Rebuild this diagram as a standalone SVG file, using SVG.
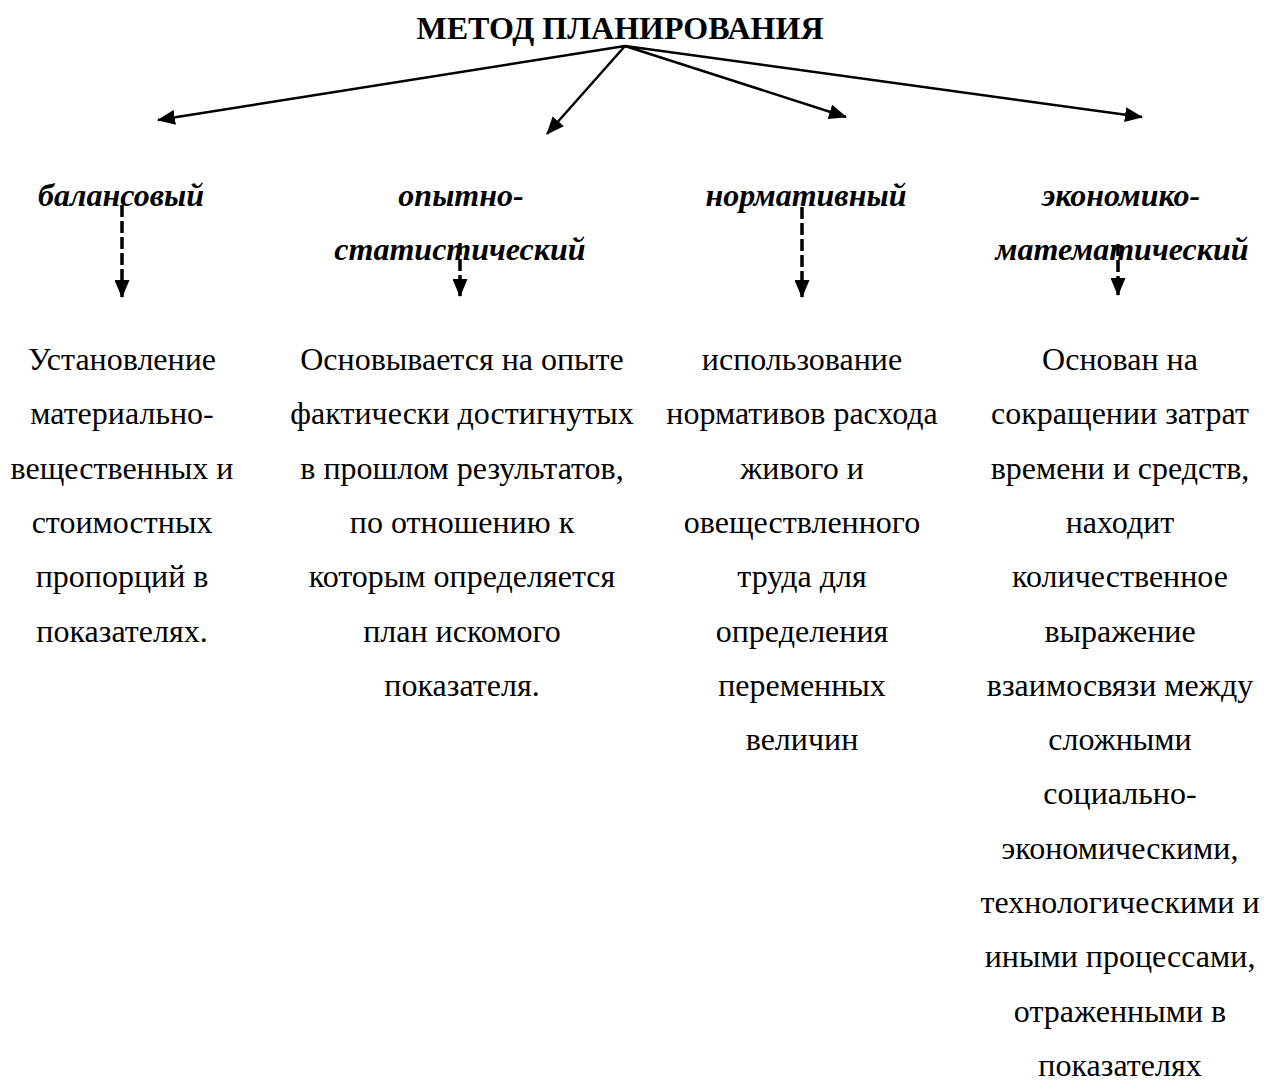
<svg xmlns="http://www.w3.org/2000/svg" width="1266" height="1090" viewBox="0 0 1266 1090">
<style>
.title{font-family:"Liberation Serif","Times New Roman",serif;font-weight:bold;font-size:32px;fill:#000;text-anchor:middle}
.head{font-family:"Liberation Serif","Times New Roman",serif;font-weight:bold;font-style:italic;font-size:32px;fill:#000;text-anchor:middle}
.body{font-family:"Liberation Serif","Times New Roman",serif;font-size:32px;fill:#000;text-anchor:middle}
.solid{stroke:#000;stroke-width:2.5;fill:none}
.dash{stroke:#000;stroke-width:3.5;fill:none;stroke-dasharray:12 4}
</style>
<defs>
<marker id="ah" viewBox="0 0 18 15" refX="17" refY="7.5" markerWidth="18" markerHeight="15" markerUnits="userSpaceOnUse" orient="auto">
<path d="M0,0 L18,7.5 L0,15 Z" fill="#000"/>
</marker>
</defs>
<g id="title"><text class="title" x="620" y="39">МЕТОД ПЛАНИРОВАНИЯ</text></g>
<g id="connectors">
<line class="solid" x1="625" y1="46" x2="158" y2="120" marker-end="url(#ah)"/>
<line class="solid" x1="625" y1="46" x2="547" y2="134" marker-end="url(#ah)"/>
<line class="solid" x1="625" y1="46" x2="846" y2="117" marker-end="url(#ah)"/>
<line class="solid" x1="625" y1="46" x2="1142" y2="117" marker-end="url(#ah)"/>
<line class="dash" x1="122" y1="205" x2="122" y2="297" marker-end="url(#ah)"/>
<line class="dash" x1="460" y1="243" x2="460" y2="296" marker-end="url(#ah)"/>
<line class="dash" x1="802" y1="207" x2="802" y2="297" marker-end="url(#ah)"/>
<line class="dash" x1="1118" y1="244" x2="1118" y2="295" marker-end="url(#ah)"/>
</g>
<g id="node-balance">
<text class="head" x="121" y="206">балансовый</text>
<text class="body" x="122" y="370">Установление</text>
<text class="body" x="122" y="424.3">материально-</text>
<text class="body" x="122" y="478.6">вещественных и</text>
<text class="body" x="122" y="532.9">стоимостных</text>
<text class="body" x="122" y="587.2">пропорций в</text>
<text class="body" x="122" y="641.5">показателях.</text>
</g>
<g id="node-stat">
<text class="head" x="461" y="206">опытно-</text>
<text class="head" x="460" y="260">статистический</text>
<text class="body" x="462" y="370">Основывается на опыте</text>
<text class="body" x="462" y="424.3">фактически достигнутых</text>
<text class="body" x="462" y="478.6">в прошлом результатов,</text>
<text class="body" x="462" y="532.9">по отношению к</text>
<text class="body" x="462" y="587.2">которым определяется</text>
<text class="body" x="462" y="641.5">план искомого</text>
<text class="body" x="462" y="695.8">показателя.</text>
</g>
<g id="node-norm">
<text class="head" x="806" y="206">нормативный</text>
<text class="body" x="802" y="370">использование</text>
<text class="body" x="802" y="424.3">нормативов расхода</text>
<text class="body" x="802" y="478.6">живого и</text>
<text class="body" x="802" y="532.9">овеществленного</text>
<text class="body" x="802" y="587.2">труда для</text>
<text class="body" x="802" y="641.5">определения</text>
<text class="body" x="802" y="695.8">переменных</text>
<text class="body" x="802" y="750.1">величин</text>
</g>
<g id="node-econ">
<text class="head" x="1121" y="206">экономико-</text>
<text class="head" x="1122" y="260">математический</text>
<text class="body" x="1120" y="370">Основан на</text>
<text class="body" x="1120" y="424.3">сокращении затрат</text>
<text class="body" x="1120" y="478.6">времени и средств,</text>
<text class="body" x="1120" y="532.9">находит</text>
<text class="body" x="1120" y="587.2">количественное</text>
<text class="body" x="1120" y="641.5">выражение</text>
<text class="body" x="1120" y="695.8">взаимосвязи между</text>
<text class="body" x="1120" y="750.1">сложными</text>
<text class="body" x="1120" y="804.4">социально-</text>
<text class="body" x="1120" y="858.7">экономическими,</text>
<text class="body" x="1120" y="913">технологическими и</text>
<text class="body" x="1120" y="967.3">иными процессами,</text>
<text class="body" x="1120" y="1021.6">отраженными в</text>
<text class="body" x="1120" y="1075.9">показателях</text>
</g>
</svg>
